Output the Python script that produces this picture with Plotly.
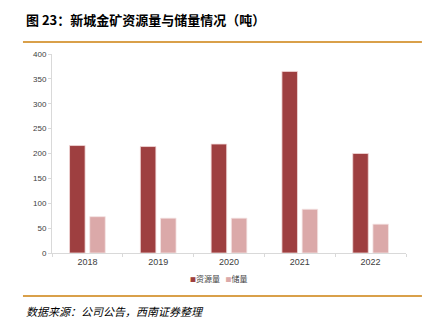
import plotly.graph_objects as go

# 新城金矿资源量与储量（吨）
years = ["2018", "2019", "2020", "2021", "2022"]
resources = [216, 214, 219, 365, 200]
reserves = [73, 70, 70, 88, 58]

y_ticks = [0, 50, 100, 150, 200, 250, 300, 350, 400]

CJK = "Noto Sans CJK SC"
ORANGE = "#D9A04A"
C_RES = "#9E3F40"
C_RSV = "#DBA9A9"

W, H = 427, 331
M_L, M_R, M_T, M_B = 52, 21, 54, 78
PLOT_H = H - M_T - M_B


def paper_y(px_from_top):
    """Convert a pixel row of the page into a paper y fraction."""
    return (H - M_B - px_from_top) / PLOT_H


fig = go.Figure()
fig.add_trace(go.Bar(
    x=years, y=resources, name="资源量",
    marker=dict(color=C_RES, line=dict(color="#F2D9D9", width=0.8)),
))
fig.add_trace(go.Bar(
    x=years, y=reserves, name="储量",
    marker=dict(color=C_RSV, line=dict(color="#F5E4E4", width=0.8)),
))

fig.update_layout(
    width=W, height=H,
    margin=dict(l=M_L, r=M_R, t=M_T, b=M_B),
    paper_bgcolor="white", plot_bgcolor="white",
    barmode="group", bargap=0.43, bargroupgap=0.23,
    showlegend=False,
    font=dict(family="Liberation Sans, Arial, sans-serif", size=9, color="#404040"),
)

fig.update_xaxes(
    type="category", showgrid=False, showline=True, linecolor="#D9D9D9", linewidth=1,
    ticks="outside", tickson="boundaries", ticklen=3, tickcolor="#D9D9D9",
    tickfont=dict(size=9, color="#404040"),
)
fig.update_yaxes(
    range=[0, 400], tickvals=y_ticks, showgrid=False, zeroline=False,
    showline=True, linecolor="#D9D9D9", linewidth=1,
    ticks="outside", ticklen=3, tickcolor="#D9D9D9",
    tickfont=dict(size=8, color="#404040"),
)

# 紧凑图例
legend_text = (
    f"<span style='color:{C_RES};font-size:6px'>■</span>资源量&nbsp;&nbsp;&nbsp;"
    f"<span style='color:{C_RSV};font-size:6px'>■</span>储量"
)
fig.add_annotation(
    text=legend_text,
    xref="paper", yref="paper", x=0.47, y=paper_y(278), xanchor="center", yanchor="middle",
    showarrow=False,
    font=dict(family=CJK, size=8, color="#404040"),
)

# 标题与来源
fig.add_annotation(
    text="<b>图 23：新城金矿资源量与储量情况（吨）</b>",
    xref="paper", yref="paper", x=-0.079, y=paper_y(19), xanchor="left", yanchor="middle",
    showarrow=False,
    font=dict(family=CJK, size=13, color="#000000"),
)
fig.add_annotation(
    text="<i>数据来源：公司公告，西南证券整理</i>",
    xref="paper", yref="paper", x=-0.079, y=paper_y(311), xanchor="left", yanchor="middle",
    showarrow=False,
    font=dict(family=CJK, size=11, color="#000000"),
)

# 标题下方与来源上方的分隔线
for row in (42, 296):
    fig.add_shape(type="line", xref="paper", yref="paper",
                  x0=-0.082, x1=1.045, y0=paper_y(row), y1=paper_y(row),
                  line=dict(color=ORANGE, width=2))

fig.write_html("out.html")
